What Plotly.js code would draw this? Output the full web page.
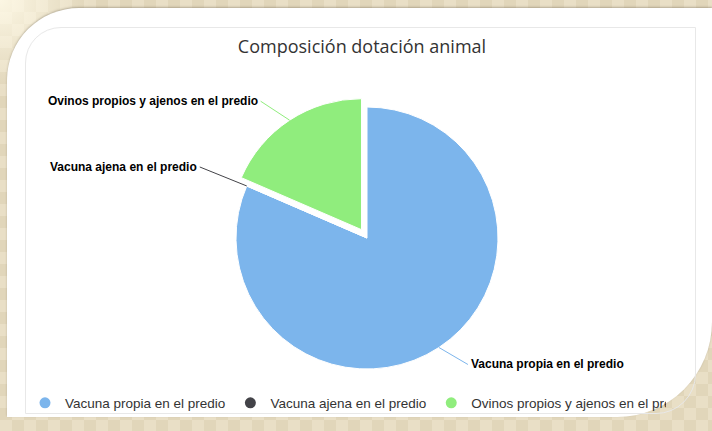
<!DOCTYPE html>
<html>
<head>
<meta charset="utf-8">
<script src="https://cdn.plot.ly/plotly-3.0.1.min.js"></script>
<style>
  html, body { margin:0; padding:0; }
  body {
    width:712px; height:431px; overflow:hidden; position:relative;
    background:
      radial-gradient(circle at 0 0, rgba(255,250,232,0.9) 0, rgba(255,250,232,0) 90px),
      repeating-conic-gradient(#e9dfc6 0 25%, #e1d6ba 0 50%) 0 0/24px 24px;
  }
  #card {
    position:absolute; left:7px; top:8px; right:0; bottom:14px;
    background:#ffffff;
    border-top-left-radius:72px;
    border-bottom-right-radius:95px;
    box-shadow:0 -1px 2px rgba(120,110,90,0.45);
  }
  #inner {
    position:absolute; left:25px; top:27px; width:669px; height:385px;
    border:1px solid #e8e8e8;
    border-top-left-radius:36px;
    border-bottom-right-radius:40px;
  }
  #clip { position:absolute; left:0; top:0; width:666px; height:431px; overflow:hidden; }
  #chart { width:712px; height:431px; }
</style>
</head>
<body>
<div id="card"></div>
<div id="inner"></div>
<div id="clip"><div id="chart"></div></div>
<script>
// ---- data ----
const labels = ['Vacuna propia en el predio', 'Vacuna ajena en el predio', 'Ovinos propios y ajenos en el predio'];
const values = [81.5, 0, 18.5];
const colors = ['#7cb5ec', '#434348', '#90ed7d'];
const pulls  = [0, 0, 0.076];
const chartTitle = 'Composición dotación animal';

// ---- layout helpers (styling / positions) ----
const W = 712, H = 431;
const CX = 367, CY = 238, R = 131;           // pie centre & radius in px
const maxPull = Math.max(...pulls);
const half = R * (1 + maxPull);
const labelOffsets = [[29, 17], [-47, -19], [-29, -19]];
const labelAnchors = ['left', 'right', 'right'];

const total = values.reduce((a, b) => a + b, 0);
let cum = 0;
const annotations = labels.map((lab, i) => {
  const mid = (cum + values[i] / 2) / total * 2 * Math.PI;
  cum += values[i];
  const rr = R + pulls[i] * R;
  const px = CX + rr * Math.sin(mid);
  const py = CY - rr * Math.cos(mid);
  return {
    x: px / W, y: 1 - py / H, xref: 'paper', yref: 'paper',
    text: '<b>' + lab + '</b>',
    showarrow: true, arrowhead: 0, arrowwidth: 1, arrowcolor: colors[i],
    ax: labelOffsets[i][0], ay: labelOffsets[i][1], axref: 'pixel', ayref: 'pixel',
    xanchor: labelAnchors[i], yanchor: 'middle', standoff: 0, startstandoff: 0,
    borderpad: 2,
    font: { family: 'Liberation Sans, Arial, sans-serif', size: 12, color: '#000' }
  };
});

const pie = {
  type: 'pie',
  labels: labels,
  values: values,
  marker: { colors: colors, line: { color: '#ffffff', width: 1 } },
  pull: pulls,
  sort: false,
  direction: 'clockwise',
  rotation: 0,
  textinfo: 'none',
  showlegend: false,
  domain: { x: [(CX - half) / W, (CX + half) / W], y: [(H - CY - half) / H, (H - CY + half) / H] }
};

const legendTraces = labels.map((lab, i) => ({
  type: 'scatter', mode: 'markers', x: [null], y: [null], name: lab,
  marker: { color: colors[i], size: 11, symbol: 'circle' },
  showlegend: true, hoverinfo: 'skip'
}));

const layout = {
  width: W, height: H,
  margin: { l: 0, r: 0, t: 0, b: 0 },
  paper_bgcolor: 'rgba(0,0,0,0)',
  plot_bgcolor: 'rgba(0,0,0,0)',
  title: {
    text: chartTitle,
    x: 362 / W, xanchor: 'center', xref: 'paper',
    y: 1 - 47 / H, yanchor: 'middle', yref: 'container',
    font: { family: 'Open Sans, sans-serif', size: 18, color: '#333333' }
  },
  xaxis: { visible: false },
  yaxis: { visible: false },
  showlegend: true,
  legend: {
    orientation: 'h', x: 25 / W, xanchor: 'left', y: 1 - 403 / H, yanchor: 'middle',
    font: { family: 'Liberation Sans, Arial, sans-serif', size: 13.5, color: '#333333' },
    bgcolor: 'rgba(0,0,0,0)'
  },
  annotations: annotations
};

Plotly.newPlot('chart', [pie].concat(legendTraces), layout, { displayModeBar: false, staticPlot: true });
</script>
</body>
</html>
